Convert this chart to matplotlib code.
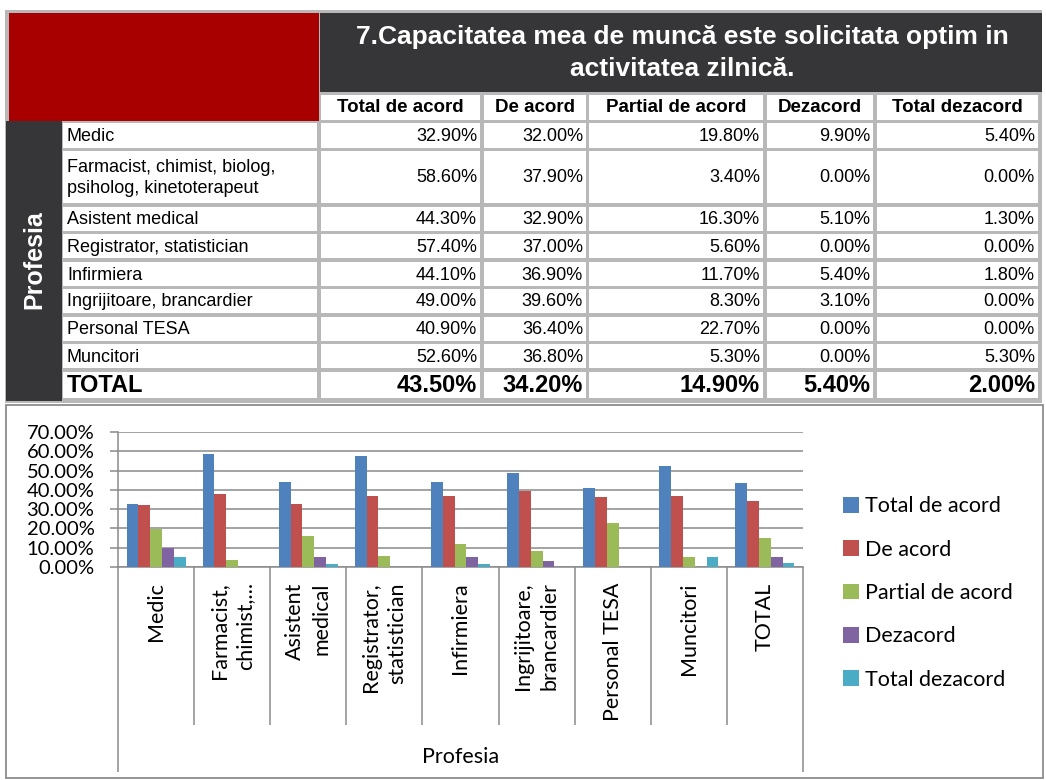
import matplotlib
matplotlib.use("Agg")
import matplotlib.pyplot as plt
from matplotlib.patches import Rectangle
from matplotlib.ticker import FuncFormatter
import numpy as np

title = "7.Capacitatea mea de muncă este solicitata optim in\nactivitatea zilnică."
columns = ["Total de acord", "De acord", "Partial de acord", "Dezacord", "Total dezacord"]
table_rows = ["Medic", "Farmacist, chimist, biolog,\npsiholog, kinetoterapeut", "Asistent medical",
              "Registrator, statistician", "Infirmiera", "Ingrijitoare, brancardier",
              "Personal TESA", "Muncitori", "TOTAL"]
chart_labels = ["Medic", "Farmacist,\nchimist,...", "Asistent\nmedical", "Registrator,\nstatistician",
                "Infirmiera", "Ingrijitoare,\nbrancardier", "Personal TESA", "Muncitori", "TOTAL"]

total_acord = [32.9, 58.6, 44.3, 57.4, 44.1, 49.0, 40.9, 52.6, 43.5]
de_acord = [32.0, 37.9, 32.9, 37.0, 36.9, 39.6, 36.4, 36.8, 34.2]
partial_acord = [19.8, 3.4, 16.3, 5.6, 11.7, 8.3, 22.7, 5.3, 14.9]
dezacord = [9.9, 0.0, 5.1, 0.0, 5.4, 3.1, 0.0, 0.0, 5.4]
total_dezacord = [5.4, 0.0, 1.3, 0.0, 1.8, 0.0, 0.0, 5.3, 2.0]

series = [total_acord, de_acord, partial_acord, dezacord, total_dezacord]
colors = ["#4F81BD", "#C0504D", "#9BBB59", "#8064A2", "#4BACC6"]

W, H = 1046, 780
fig = plt.figure(figsize=(W / 100, H / 100), dpi=100)

# ---- table drawn in pixel coordinates ----
bg = fig.add_axes([0, 0, 1, 1])
bg.set_xlim(0, W)
bg.set_ylim(H, 0)
bg.axis("off")

tf = "Liberation Sans"
dark = "#363638"
gridgrey = "#b8b8b8"

bg.add_patch(Rectangle((5, 10), 1037, 393, facecolor=gridgrey, edgecolor="none"))
bg.add_patch(Rectangle((9, 13), 310, 108, facecolor="#A80000", edgecolor="none"))
bg.add_patch(Rectangle((320, 13), 722, 79, facecolor=dark, edgecolor="none"))
bg.add_patch(Rectangle((6, 121), 56, 280, facecolor=dark, edgecolor="none"))
bg.text(682, 53, title, ha="center", va="center", color="white", fontsize=19,
        fontweight="bold", family=tf, linespacing=1.45)
bg.text(34, 260, "Profesia", rotation=90, ha="center", va="center", color="white",
        fontsize=18, fontweight="bold", family=tf)

col_edges = [(321, 480), (484, 586), (589, 763), (767, 873), (877, 1038)]
row_edges = [(123, 148), (151, 203), (207, 231), (234, 258), (262, 286), (289, 313),
             (317, 341), (344, 368), (372, 398)]

for (x0, x1), name in zip(col_edges, columns):
    bg.add_patch(Rectangle((x0, 95), x1 - x0, 25, facecolor="white", edgecolor="none"))
    bg.text((x0 + x1) / 2, 108, name, ha="center", va="center", fontsize=13.5,
            fontweight="bold", family=tf)

for i, ((y0, y1), label) in enumerate(zip(row_edges, table_rows)):
    last = i == len(table_rows) - 1
    fs = 17 if last else 13
    fw = "bold" if last else "normal"
    ym = (y0 + y1) / 2 + 1
    bg.add_patch(Rectangle((63, y0), 254, y1 - y0, facecolor="white", edgecolor="none"))
    bg.text(67, ym, label, ha="left", va="center", fontsize=fs, fontweight=fw,
            family=tf, linespacing=1.3)
    for (x0, x1), s in zip(col_edges, series):
        bg.add_patch(Rectangle((x0, y0), x1 - x0, y1 - y0, facecolor="white", edgecolor="none"))
        bg.text(x1 - 3, ym, "%.2f%%" % s[i], ha="right", va="center", fontsize=fs,
                fontweight=fw, family=tf)

# chart frame
bg.add_patch(Rectangle((6, 405), 1037, 373, facecolor="white", edgecolor="#8c8c8c", lw=1.3))

# ---- bar chart ----
cf = "Lato"
ax = fig.add_axes([118 / W, 1 - 567 / H, (803 - 118) / W, (567 - 432) / H])
ax.set_facecolor("none")
x = np.arange(len(chart_labels))
bw = 0.155
for k, (s, c, name) in enumerate(zip(series, colors, columns)):
    ax.bar(x + (k - 2) * bw, s, width=bw, color=c, label=name, zorder=3)

ax.set_xlim(-0.5, len(chart_labels) - 0.5)
ax.set_ylim(0, 70)
ax.set_yticks(np.arange(0, 71, 10))
ax.yaxis.set_major_formatter(FuncFormatter(lambda v, p: "%.2f%%" % v))
ax.grid(axis="y", color="#8a8a8a", lw=1.1, zorder=0)
for side in ["top", "right"]:
    ax.spines[side].set_visible(False)
for side in ["left", "bottom"]:
    ax.spines[side].set_color("#8a8a8a")
    ax.spines[side].set_linewidth(1.1)
ax.tick_params(axis="y", length=6, color="#8a8a8a", width=1.1, pad=11,
               labelsize=14.5)
for t in ax.get_yticklabels():
    t.set_family(cf)

ax.set_xticks(x)
ax.set_xticklabels(chart_labels, rotation=90, fontsize=15.5, family=cf,
                   ha="center", va="top", multialignment="right", linespacing=1.4)
ax.tick_params(axis="x", length=0, pad=11)

tr = ax.get_xaxis_transform()
ax.vlines(np.arange(0.5, len(chart_labels) - 0.5), 0, -158 / 135, transform=tr,
          color="#8a8a8a", lw=1.1, clip_on=False)
ax.vlines([-0.5, len(chart_labels) - 0.5], 0, -205 / 135, transform=tr,
          color="#8a8a8a", lw=1.1, clip_on=False)

fig.text(461 / W, 1 - 757 / H, "Profesia", ha="center", va="center", fontsize=15.5, family=cf)

fig.legend(loc="center left", bbox_to_anchor=(834 / W, 1 - 593 / H), frameon=False,
           prop={"family": cf, "size": 15.5}, handlelength=0.75, handleheight=0.75,
           handletextpad=0.3, labelspacing=1.08, borderaxespad=0)

fig.savefig("out.png", dpi=100)
